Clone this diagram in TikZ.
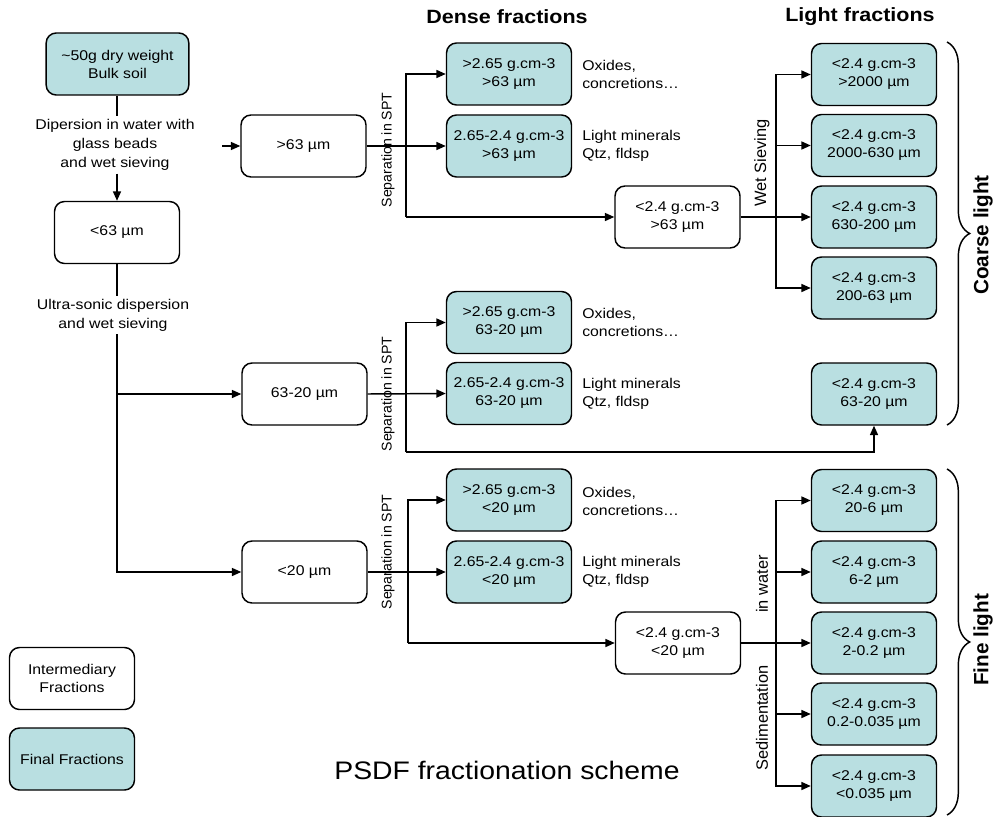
\documentclass[tikz,border=0pt]{standalone}
\usepackage{fontspec}
\setmainfont{Liberation Sans}
\newfontfamily\wide{Liberation Sans}[FakeStretch=1.12]
\usetikzlibrary{arrows.meta,decorations.pathreplacing}
\definecolor{fincol}{RGB}{185,223,225}
\begin{document}
\begin{tikzpicture}[x=0.75pt,y=-0.75pt,
 box/.style={draw,line width=1.1pt,rounded corners=7.5pt,minimum width=93.75pt,minimum height=46.5pt,align=center,font=\wide\fontsize{10.6}{13.5}\selectfont,inner sep=1pt},
 inter/.style={box,fill=white},
 fin/.style={box,fill=fincol},
 conn/.style={line width=1.1pt},
 arr/.style={conn,-{Triangle[length=7pt,width=6pt]}},
 side/.style={anchor=west,align=left,font=\wide\fontsize{10.6}{13.5}\selectfont,inner sep=0pt},
 ctext/.style={align=center,font=\wide\fontsize{10.6}{14.3}\selectfont,inner sep=2pt},
 vlab/.style={rotate=90,font=\fontsize{10.6}{12}\selectfont,inner sep=0pt},
 vlabb/.style={rotate=90,font=\fontsize{12.3}{14}\selectfont,inner sep=0pt},
 head/.style={font=\wide\bfseries\fontsize{14.4}{16}\selectfont},
 brlab/.style={rotate=90,font=\bfseries\fontsize{15.5}{18}\selectfont},
 br/.style={decorate,decoration={brace,amplitude=17pt},line width=1.1pt}]
\useasboundingbox (0,0) rectangle (1000,817);
\fill[white] (0,0) rectangle (1000,817);
% headers
\node[head] (hdense) at (507,17) {Dense fractions};
\node[head] (hlight) at (860,17) {Light fractions};
% left column
\node[fin,minimum width=107pt] (bulk) at (117.5,64) {\textasciitilde 50g dry weight\\Bulk soil};
\node[ctext] (disp) at (115,145) {Dipersion in water with\\glass beads\\and wet sieving};
\node[inter] (lt63) at (117,232.5) {<63 µm};
\node[ctext] (us) at (113,315) {Ultra-sonic dispersion\\and wet sieving};
% intermediary
\node[inter] (gt63) at (303.5,146) {>63 µm};
\node[inter] (m2063) at (304.5,394) {63-20 µm};
\node[inter] (lt20) at (304.5,572) {<20 µm};
\node[inter] (l63) at (677.5,217) {<2.4 g.cm-3\\>63 µm};
\node[inter] (l20) at (678,643) {<2.4 g.cm-3\\<20 µm};
% dense
\node[fin] (d1) at (509,74) {>2.65 g.cm-3\\>63 µm};
\node[fin] (d2) at (509,146) {2.65-2.4 g.cm-3\\>63 µm};
\node[fin] (d3) at (509,322.5) {>2.65 g.cm-3\\63-20 µm};
\node[fin] (d4) at (509,393.5) {2.65-2.4 g.cm-3\\63-20 µm};
\node[fin] (d5) at (509,500) {>2.65 g.cm-3\\<20 µm};
\node[fin] (d6) at (509,572) {2.65-2.4 g.cm-3\\<20 µm};
\node[side] (t1) at (582,74) {Oxides,\\concretions…};
\node[side] (t2) at (582,146) {Light minerals\\Qtz, fldsp};
\node[side] (t3) at (582,322) {Oxides,\\concretions…};
\node[side] (t4) at (582,394) {Light minerals\\Qtz, fldsp};
\node[side] (t5) at (582,501) {Oxides,\\concretions…};
\node[side] (t6) at (582,572) {Light minerals\\Qtz, fldsp};
% light
\node[fin] (c1) at (874,74.5) {<2.4 g.cm-3\\>2000 µm};
\node[fin] (c2) at (874,145.5) {<2.4 g.cm-3\\2000-630 µm};
\node[fin] (c3) at (874,217) {<2.4 g.cm-3\\630-200 µm};
\node[fin] (c4) at (874,288) {<2.4 g.cm-3\\200-63 µm};
\node[fin] (c5) at (874,394) {<2.4 g.cm-3\\63-20 µm};
\node[fin] (f1) at (874,500.5) {<2.4 g.cm-3\\20-6 µm};
\node[fin] (f2) at (874,572) {<2.4 g.cm-3\\6-2 µm};
\node[fin] (f3) at (874,643) {<2.4 g.cm-3\\2-0.2 µm};
\node[fin] (f4) at (874,714) {<2.4 g.cm-3\\0.2-0.035 µm};
\node[fin] (f5) at (874,786) {<2.4 g.cm-3\\<0.035 µm};
% legend
\node[inter] (legi) at (72,678.5) {Intermediary\\Fractions};
\node[fin] (legf) at (72,759) {Final Fractions};
\node[font=\wide\fontsize{19}{22}\selectfont] (title) at (507,770) {PSDF fractionation scheme};
% connectors top
\draw[conn] (bulk.south -| lt63.north) -- (lt63.north |- disp.north);
\draw[arr] (lt63.north |- disp.south) -- (lt63.north);
\coordinate (inarr) at (222,146);
\draw[arr] (inarr) -- (gt63.west);
\draw[arr] (gt63.east) -- (d2.west);
\coordinate (s1) at (406,217);
\draw[arr] (s1) |- (d1.west);
\draw[arr] (s1) -- (l63.west);
\draw[arr] (l63.east) -- (c3.west);
\coordinate (w1) at (776,217);
\draw[arr] (w1) |- (c1.west);
\draw[arr] (w1) |- (c2.west);
\draw[arr] (w1) |- (c4.west);
% middle
\draw[conn] (lt63.south) -- (lt63.south |- us.north);
\draw[arr] (lt63.south |- us.south) |- (lt20.west);
\draw[arr] (lt63.south |- m2063.west) -- (m2063.west);
\draw[arr] (m2063.east) -- (d4.west);
\coordinate (s2) at (406,452);
\draw[arr] (s2) |- (d3.west);
\draw[arr] (s2) -| (c5.south);
% bottom
\draw[arr] (lt20.east) -- (d6.west);
\coordinate (s3) at (408,643);
\draw[arr] (s3) |- (d5.west);
\draw[arr] (s3) -- (l20.west);
\draw[arr] (l20.east) -- (f3.west);
\coordinate (w2) at (776,643);
\draw[arr] (w2) |- (f1.west);
\draw[arr] (w2) |- (f2.west);
\draw[arr] (w2) |- (f4.west);
\draw[arr] (w2) |- (f5.west);
% vertical labels
\node[vlab] (sep1) at (388,150) {Separation in SPT};
\node[vlab] (sep2) at (388,394) {Separation in SPT};
\node[vlab] (sep3) at (388,552) {Separation in SPT};
\node[vlabb] (wet) at (762,163) {Wet Sieving};
\node[vlabb] (inw) at (762,584) {in water};
\node[vlabb] (sed) at (762,718) {Sedimentation};
% braces
\coordinate (b1t) at (947,42);
\coordinate (b1b) at (947,425);
\coordinate (b2t) at (947,469);
\coordinate (b2b) at (947,815);
\draw[br] (b1t) -- (b1b);
\draw[br] (b2t) -- (b2b);
\node[brlab] (coarse) at (983,235) {Coarse light};
\node[brlab] (fine) at (983,640) {Fine light};
\end{tikzpicture}
\end{document}
